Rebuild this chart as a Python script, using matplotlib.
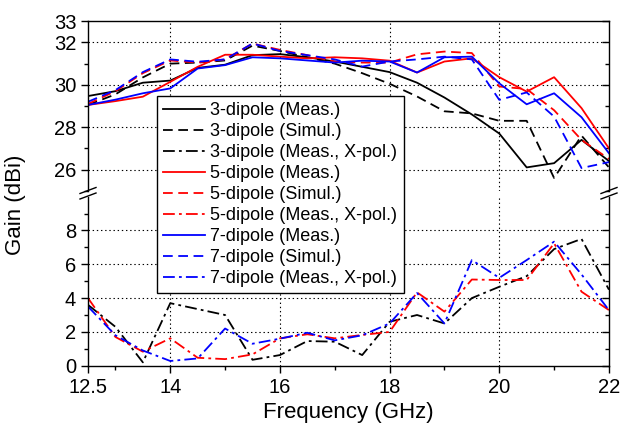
import matplotlib
matplotlib.use('Agg')
import matplotlib.pyplot as plt
from matplotlib.lines import Line2D

plt.rcParams['font.family'] = ['Liberation Sans', 'DejaVu Sans']
plt.rcParams['lines.scale_dashes'] = False

# frequency points (GHz)
freq = [12.5, 13, 13.5, 14, 14.5, 15, 15.5, 16, 16.5, 17,
        17.5, 18, 18.5, 19, 19.5, 20, 20.5, 21, 21.5, 22]
xtick_pos = [12.5, 14, 16, 18, 20, 22]
xtick_lab = ['12.5', '14', '16', '18', '20', '22']

# co-pol gain (dBi), upper part of the broken axis
d3_meas = [29.47, 29.7, 30.1, 30.2, 30.8, 30.95, 31.4, 31.45, 31.3, 31.1,
           30.85, 30.6, 30.1, 29.4, 28.6, 27.7, 26.1, 26.3, 27.4, 26.4]
d3_sim = [29.05, 29.55, 30.35, 31.0, 31.05, 31.15, 31.85, 31.6, 31.3, 31.0,
          30.55, 30.05, 29.45, 28.75, 28.65, 28.3, 28.3, 25.6, 27.6, 26.1]
d5_meas = [29.05, 29.23, 29.44, 30.14, 30.85, 31.42, 31.42, 31.33, 31.25, 31.3,
           31.25, 31.14, 30.58, 31.1, 31.25, 30.36, 29.68, 30.36, 28.9, 27.0]
d5_sim = [29.1, 29.7, 30.55, 31.15, 31.05, 31.2, 31.95, 31.65, 31.4, 31.1,
          31.05, 31.05, 31.44, 31.57, 31.5, 29.92, 29.8, 28.8, 27.4, 26.5]
d7_meas = [29.05, 29.3, 29.6, 29.83, 30.77, 30.93, 31.3, 31.25, 31.15, 31.05,
           31.14, 31.1, 30.58, 31.3, 31.33, 30.07, 29.08, 29.6, 28.47, 26.77]
d7_sim = [29.2, 29.75, 30.6, 31.2, 31.09, 31.2, 31.95, 31.6, 31.4, 31.2,
          30.86, 31.1, 31.2, 31.33, 31.2, 29.29, 29.64, 28.5, 26.07, 26.35]

# cross-pol gain (dBi), lower part
d3_xpol = [3.6, 2.3, 0.2, 3.7, 3.35, 3.0, 0.35, 0.63, 1.46, 1.42,
           0.63, 2.6, 3.0, 2.5, 4.0, 4.67, 5.3, 6.9, 7.5, 4.5]
d5_xpol = [4.0, 1.7, 0.83, 1.62, 0.47, 0.39, 0.67, 1.62, 1.86, 1.62,
           1.82, 2.0, 4.34, 3.2, 5.1, 5.07, 5.07, 7.24, 4.38, 3.29]
d7_xpol = [3.5, 1.8, 0.9, 0.28, 0.43, 2.2, 1.3, 1.6, 1.95, 1.5,
           1.8, 2.5, 4.3, 2.5, 6.25, 5.2, 6.25, 7.34, 5.4, 3.29]

DASH = (0, (7, 4))
DASHDOT = (0, (8.5, 3, 2, 3))

fig = plt.figure(figsize=(6.22, 4.30), dpi=100)
ax_top = fig.add_axes([0.1415, 0.5565, 0.8375, 0.394])
ax_bot = fig.add_axes([0.1415, 0.1495, 0.8375, 0.3931])

handles = []
for col, meas, sim, xpol, n in [('black', d3_meas, d3_sim, d3_xpol, 3),
                                ('red', d5_meas, d5_sim, d5_xpol, 5),
                                ('blue', d7_meas, d7_sim, d7_xpol, 7)]:
    h1, = ax_top.plot(freq, meas, color=col, lw=1.3, ls='-',
                      label='%d-dipole (Meas.)' % n)
    h2, = ax_top.plot(freq, sim, color=col, lw=1.3, ls=DASH,
                      label='%d-dipole (Simul.)' % n)
    h3, = ax_bot.plot(freq, xpol, color=col, lw=1.3, ls=DASHDOT,
                      label='%d-dipole (Meas., X-pol.)' % n)
    handles += [h1, h2, h3]

# axis ranges and ticks
for ax in (ax_top, ax_bot):
    ax.set_xlim(12.5, 22)
    ax.set_xticks(xtick_pos)
    ax.set_xticklabels(xtick_lab)
    ax.set_xticks([13, 15, 17, 19, 21], minor=True)
    for s in ax.spines.values():
        s.set_linewidth(1.0)
    ax.tick_params(axis='y', which='both', left=True, right=True, labelsize=14.5)
    ax.tick_params(axis='y', which='major', length=5, width=1)
    ax.tick_params(axis='y', which='minor', length=3, width=1)
    for x in [14, 16, 18, 20]:
        ax.axvline(x, color='black', lw=0.8, ls=(0, (1, 2)), zorder=0)

ax_top.set_ylim(25, 33)
ax_top.set_yticks([26, 28, 30, 32, 33])
ax_top.set_yticks([25, 27, 29, 31], minor=True)
for y in [26, 28, 30, 32]:
    ax_top.axhline(y, color='black', lw=0.8, ls=(0, (1, 2)), zorder=0)
ax_top.spines['bottom'].set_visible(False)
ax_top.tick_params(axis='x', which='both', bottom=False, top=False, labelbottom=False)

ax_bot.set_ylim(0, 10)
ax_bot.set_yticks([0, 2, 4, 6, 8])
ax_bot.set_yticks([1, 3, 5, 7, 9], minor=True)
for y in [2, 4, 6, 8]:
    ax_bot.axhline(y, color='black', lw=0.8, ls=(0, (1, 2)), zorder=0)
ax_bot.spines['top'].set_visible(False)
ax_bot.tick_params(axis='x', which='both', bottom=True, top=False, direction='out',
                   labelsize=14.5)
ax_bot.tick_params(axis='x', which='major', length=5, width=1)
ax_bot.tick_params(axis='x', which='minor', length=3, width=1)

# left ticks outward, right ticks inward
for ax in (ax_top, ax_bot):
    for t in ax.yaxis.get_major_ticks() + ax.yaxis.get_minor_ticks():
        t.tick1line.set_marker(matplotlib.lines.TICKLEFT)
        t.tick2line.set_marker(matplotlib.lines.TICKLEFT)

ax_bot.set_xlabel('Frequency (GHz)', fontsize=16, labelpad=4)
fig.text(0.025, 0.523, 'Gain (dBi)', rotation=90, va='center', ha='center', fontsize=16)

# break marks on the y axes
W, H = 622.0, 430.0
for xc in (88, 609):
    for yc in (190.5, 196.0):
        fig.add_artist(Line2D([(xc - 8) / W, (xc + 8) / W],
                              [1 - (yc + 3) / H, 1 - (yc - 3) / H],
                              color='black', lw=1.0))

leg = fig.legend(handles=handles, loc='upper left',
                 bbox_to_anchor=(157 / W, 1 - 96 / H), borderaxespad=0,
                 fontsize=13, frameon=True, fancybox=False, framealpha=1,
                 edgecolor='black', handlelength=2.3, handletextpad=0.3,
                 labelspacing=0.22, borderpad=0.35)
leg.get_frame().set_linewidth(1.0)

fig.savefig('out.png', dpi=100)
